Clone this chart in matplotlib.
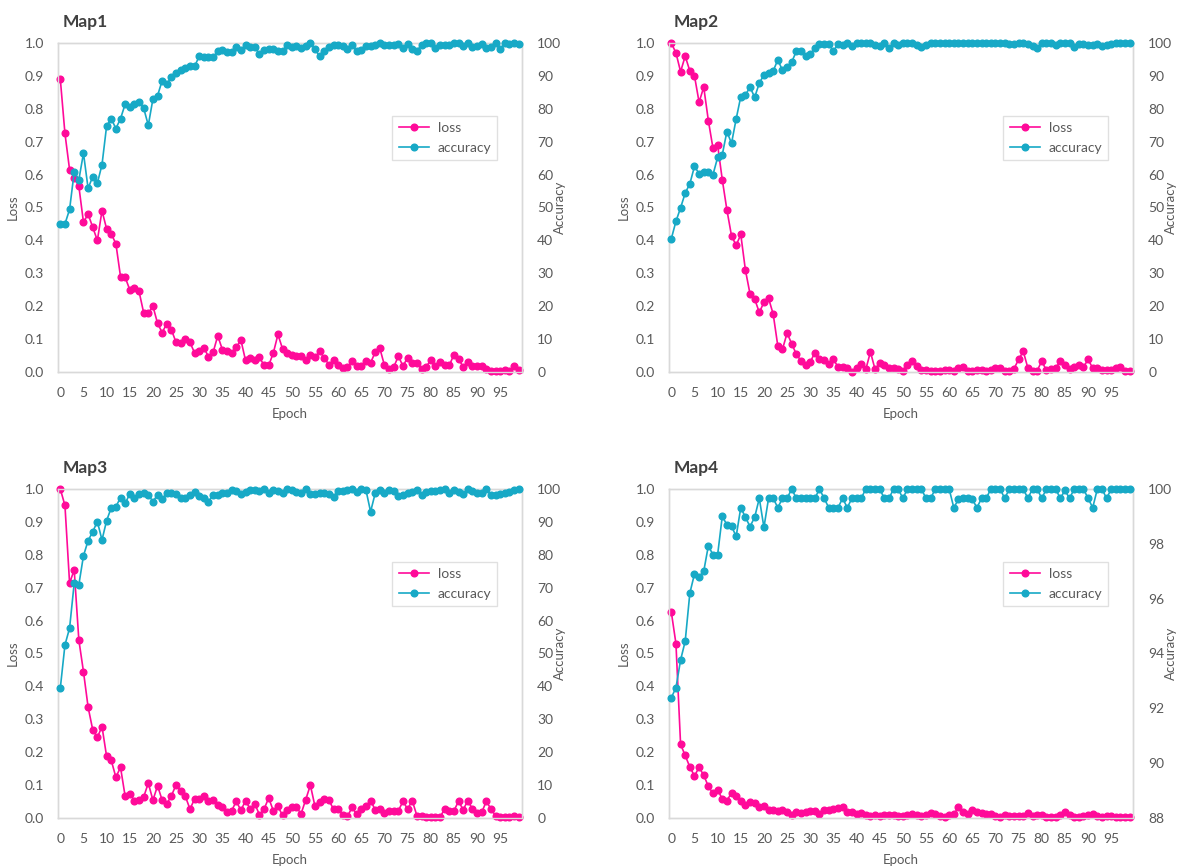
import numpy as np
import matplotlib
matplotlib.use("Agg")
import matplotlib.pyplot as plt

plt.rcParams['font.family'] = ['Lato', 'DejaVu Sans']

# epochs shared by every panel
epochs = list(range(100))

map1_loss = [0.89, 0.725, 0.615, 0.59, 0.565, 0.455, 0.48, 0.44, 0.40, 0.49,
             0.435, 0.42, 0.39, 0.29, 0.288, 0.25, 0.256, 0.245, 0.18, 0.178,
             0.20, 0.148, 0.12, 0.147, 0.128, 0.09, 0.088, 0.10, 0.09, 0.058,
             0.065, 0.073, 0.047, 0.06, 0.11, 0.068, 0.065, 0.057, 0.075, 0.097,
             0.035, 0.042, 0.036, 0.045, 0.02, 0.02, 0.058, 0.114, 0.07, 0.057,
             0.053, 0.05, 0.048, 0.035, 0.052, 0.045, 0.063, 0.043, 0.022, 0.036,
             0.02, 0.012, 0.015, 0.032, 0.018, 0.018, 0.033, 0.028, 0.06, 0.072,
             0.02, 0.008, 0.015, 0.048, 0.018, 0.044, 0.028, 0.028, 0.01, 0.015,
             0.037, 0.018, 0.03, 0.02, 0.02, 0.053, 0.04, 0.015, 0.03, 0.018,
             0.017, 0.017, 0.008, 0.004, 0.004, 0.004, 0.005, 0.004, 0.017, 0.007]
map1_acc = [45, 45, 49.4, 60.8, 58.4, 66.5, 55.8, 59.4, 57.4, 63,
            74.8, 77, 74, 77, 81.4, 80.5, 81.4, 82.2, 80.2, 75,
            83, 84, 88.6, 87.6, 89.6, 91, 91.7, 92.5, 92.9, 92.9,
            96, 95.7, 95.7, 95.7, 97.5, 97.8, 97.2, 97.2, 98.8, 97.8,
            99.3, 98.7, 98.7, 96.6, 97.8, 98.3, 98.3, 97.5, 97.5, 99.5,
            98.7, 99.2, 98.5, 99.2, 100, 98.2, 95.9, 97.5, 98.7, 99.3,
            99.3, 99, 98.3, 99.3, 97.5, 98, 99.2, 99.2, 99.5, 100,
            99.5, 99.3, 99.3, 99.7, 98.5, 99.8, 98.3, 97.5, 99.5, 100,
            100, 98.5, 99.5, 99.3, 99.5, 100, 100, 99, 100, 98.7,
            99.2, 99.7, 98.5, 98.7, 100, 98.2, 100, 99.7, 100, 99.8]

map2_loss = [1.0, 0.97, 0.913, 0.96, 0.915, 0.90, 0.82, 0.866, 0.764, 0.68,
             0.69, 0.585, 0.493, 0.414, 0.385, 0.418, 0.31, 0.237, 0.222, 0.181,
             0.212, 0.224, 0.176, 0.079, 0.069, 0.118, 0.086, 0.054, 0.034, 0.02,
             0.03, 0.059, 0.039, 0.037, 0.023, 0.039, 0.015, 0.016, 0.013, 0.001,
             0.013, 0.023, 0.008, 0.061, 0.008, 0.028, 0.02, 0.013, 0.013, 0.008,
             0.004, 0.02, 0.033, 0.017, 0.007, 0.007, 0.004, 0.002, 0.002, 0.005,
             0.007, 0.004, 0.012, 0.014, 0.004, 0.002, 0.005, 0.005, 0.004, 0.007,
             0.012, 0.012, 0.002, 0.004, 0.01, 0.038, 0.063, 0.012, 0.004, 0.004,
             0.033, 0.005, 0.009, 0.012, 0.033, 0.02, 0.009, 0.015, 0.02, 0.015,
             0.038, 0.012, 0.012, 0.005, 0.007, 0.005, 0.012, 0.015, 0.004, 0.004]
map2_acc = [40.5, 45.8, 49.9, 54.4, 57.2, 62.5, 60.3, 60.8, 60.8, 60,
            65.2, 66, 73.1, 69.5, 76.9, 83.7, 84.2, 86.6, 83.5, 87.8,
            90.3, 90.8, 91.5, 94.9, 91.7, 92.6, 94.2, 97.5, 97.5, 96.2,
            96.6, 98.5, 99.7, 99.7, 99.7, 97.5, 99.7, 99.3, 100, 99.2,
            100, 100, 100, 100, 99.5, 99.2, 100, 98.5, 100, 99.3,
            100, 100, 100, 99.5, 98.7, 99.5, 100, 100, 100, 100,
            100, 100, 100, 100, 100, 100, 100, 100, 100, 100,
            100, 100, 100, 99.8, 99.7, 100, 100, 99.7, 99.2, 98.5,
            100, 100, 100, 99.5, 100, 100, 100, 98.7, 99.7, 99.7,
            99.5, 99.3, 99.7, 99, 99.3, 99.7, 100, 100, 100, 100]

map3_loss = [1.0, 0.95, 0.714, 0.754, 0.541, 0.445, 0.337, 0.268, 0.245, 0.278,
             0.187, 0.175, 0.124, 0.154, 0.066, 0.074, 0.053, 0.056, 0.064, 0.106,
             0.054, 0.098, 0.054, 0.043, 0.068, 0.101, 0.081, 0.066, 0.027, 0.058,
             0.058, 0.068, 0.051, 0.056, 0.04, 0.032, 0.018, 0.022, 0.051, 0.023,
             0.053, 0.027, 0.043, 0.01, 0.027, 0.061, 0.022, 0.035, 0.008, 0.025,
             0.032, 0.032, 0.013, 0.056, 0.1, 0.035, 0.049, 0.058, 0.054, 0.027,
             0.027, 0.01, 0.005, 0.032, 0.012, 0.027, 0.035, 0.053, 0.025, 0.027,
             0.015, 0.02, 0.02, 0.022, 0.051, 0.027, 0.053, 0.007, 0.005, 0.003,
             0.003, 0.003, 0.003, 0.027, 0.02, 0.022, 0.051, 0.025, 0.053, 0.027,
             0.015, 0.017, 0.051, 0.027, 0.007, 0.003, 0.002, 0.002, 0.005, 0.002]
map3_acc = [39.5, 52.6, 57.7, 71.4, 70.9, 79.7, 84.3, 87, 90.1, 84.5,
            90.4, 94.3, 94.6, 97.4, 95.6, 98.5, 97.2, 98.5, 98.7, 98.2,
            96.2, 98.2, 96.9, 98.9, 98.9, 98.5, 97.2, 97.2, 98.2, 99.2,
            97.9, 97.2, 96.2, 98.2, 98.2, 98.7, 98.9, 99.7, 99.5, 98.5,
            99.2, 99.7, 99.7, 99.5, 100, 98.7, 99.7, 99.5, 98.7, 100,
            99.7, 99, 98.9, 100, 98.4, 98.4, 98.9, 98.9, 98.4, 97.7,
            99.4, 99.4, 99.7, 100, 99, 100, 99.7, 93.1, 98.7, 99.7,
            98.7, 99.7, 99.5, 97.9, 98.2, 98.7, 99.2, 99.7, 98.2, 99,
            99.4, 99.4, 99.7, 100, 98.7, 99.7, 99.2, 98.4, 100, 99.5,
            98.9, 98.7, 100, 98.2, 98.2, 98.5, 98.7, 99.2, 99.7, 100]

map4_loss = [0.626, 0.53, 0.224, 0.19, 0.155, 0.128, 0.154, 0.13, 0.096, 0.075,
             0.086, 0.058, 0.053, 0.076, 0.066, 0.053, 0.04, 0.05, 0.045, 0.034,
             0.037, 0.024, 0.024, 0.022, 0.023, 0.019, 0.01, 0.019, 0.015, 0.018,
             0.022, 0.021, 0.012, 0.024, 0.023, 0.027, 0.029, 0.034, 0.019, 0.018,
             0.012, 0.015, 0.01, 0.007, 0.01, 0.005, 0.01, 0.01, 0.01, 0.007,
             0.007, 0.009, 0.012, 0.01, 0.007, 0.009, 0.015, 0.012, 0.007, 0.004,
             0.01, 0.012, 0.032, 0.017, 0.012, 0.024, 0.017, 0.015, 0.012, 0.012,
             0.007, 0.004, 0.01, 0.007, 0.005, 0.005, 0.005, 0.014, 0.007, 0.01,
             0.009, 0.004, 0.004, 0.004, 0.01, 0.019, 0.01, 0.004, 0.004, 0.007,
             0.009, 0.012, 0.007, 0.004, 0.007, 0.007, 0.004, 0.004, 0.004, 0.004]
map4_acc = [92.39, 92.75, 93.76, 94.45, 96.2, 96.9, 96.8, 97.0, 97.93, 97.6,
            97.6, 99.0, 98.7, 98.65, 98.27, 99.32, 98.97, 98.63, 98.97, 99.66,
            98.6, 99.66, 99.66, 99.32, 99.66, 99.66, 100, 99.66, 99.66, 99.66,
            99.66, 99.66, 100, 99.66, 99.32, 99.32, 99.32, 99.66, 99.32, 99.66,
            99.66, 99.66, 100, 100, 100, 100, 99.66, 99.66, 100, 100,
            99.66, 100, 100, 100, 100, 99.66, 99.66, 100, 100, 100,
            100, 99.32, 99.62, 99.66, 99.66, 99.62, 99.32, 99.66, 99.66, 100,
            100, 100, 99.66, 100, 100, 100, 100, 99.66, 100, 100,
            99.66, 100, 100, 100, 99.66, 99.95, 99.66, 100, 100, 100,
            99.66, 99.32, 100, 100, 99.66, 100, 100, 100, 100, 100]

titles = ["Map1", "Map2", "Map3", "Map4"]
losses = [map1_loss, map2_loss, map3_loss, map4_loss]
accs = [map1_acc, map2_acc, map3_acc, map4_acc]
acc_ranges = [(0, 100, 10), (0, 100, 10), (0, 100, 10), (88, 100, 2)]

loss_color = "#ff0a99"
acc_color = "#17a9c6"
text_color = "#595959"
frame_color = "#d9d9d9"

fig = plt.figure(figsize=(11.79, 8.66), dpi=100)

# axes boxes in pixels: left, top, right, bottom
boxes = [(58, 43, 522, 372), (669, 43, 1133, 372),
         (58, 489, 522, 818), (669, 489, 1133, 818)]
W, H = 1179, 866

for title, loss, acc, rng, box in zip(titles, losses, accs, acc_ranges, boxes):
    l, t, r, b = box
    ax = fig.add_axes([l / W, 1 - b / H, (r - l) / W, (b - t) / H])
    ax2 = ax.twinx()

    h1, = ax.plot(epochs, loss, color=loss_color, lw=1.2, marker="o",
                  markersize=4.8, label="loss", zorder=3, clip_on=False)
    h2, = ax2.plot(epochs, acc, color=acc_color, lw=1.2, marker="o",
                   markersize=4.8, label="accuracy", zorder=3, clip_on=False)

    ax.set_xlim(-0.5, 99.7)
    ax.set_ylim(0, 1.0)
    ax.set_yticks(np.arange(0, 1.01, 0.1))
    ax.set_yticklabels([f"{v:.1f}" for v in np.arange(0, 1.01, 0.1)])
    ax.set_xticks(range(0, 100, 5))

    lo, hi, step = rng
    ax2.set_ylim(lo, hi)
    ax2.set_yticks(range(lo, hi + 1, step))

    ax.tick_params(axis="both", length=0, colors=text_color, labelsize=10)
    ax.tick_params(axis="y", pad=10)
    ax.tick_params(axis="x", pad=11)
    ax2.tick_params(axis="y", length=0, colors=text_color, labelsize=10, pad=11)

    for a in (ax, ax2):
        for s in a.spines.values():
            s.set_color(frame_color)
            s.set_linewidth(1.0)

    ax.set_ylabel("Loss", color=text_color, fontsize=9.5, labelpad=4)
    ax.set_xlabel("Epoch", color=text_color, fontsize=9.5, labelpad=6)
    # right label placed by hand so it stays inside the figure edge
    fig.text((r + 44) / W, 1 - (t + b) / 2 / H, "Accuracy", rotation=90,
             ha="right", va="center", color=text_color, fontsize=9.5)

    ax.text(0.011, 1.064, title, transform=ax.transAxes, fontsize=12.5,
            fontweight="bold", color="#404040", va="center", ha="left")

    leg = ax2.legend([h1, h2], ["loss", "accuracy"], loc="upper right",
                     bbox_to_anchor=(0.962, 0.80), fontsize=10,
                     frameon=True, fancybox=False, handlelength=2.2,
                     borderpad=0.45, labelspacing=0.55, handletextpad=0.6)
    leg.get_frame().set_edgecolor(frame_color)
    leg.get_frame().set_linewidth(1.0)
    for txt in leg.get_texts():
        txt.set_color(text_color)

fig.savefig("out.png", dpi=100)
